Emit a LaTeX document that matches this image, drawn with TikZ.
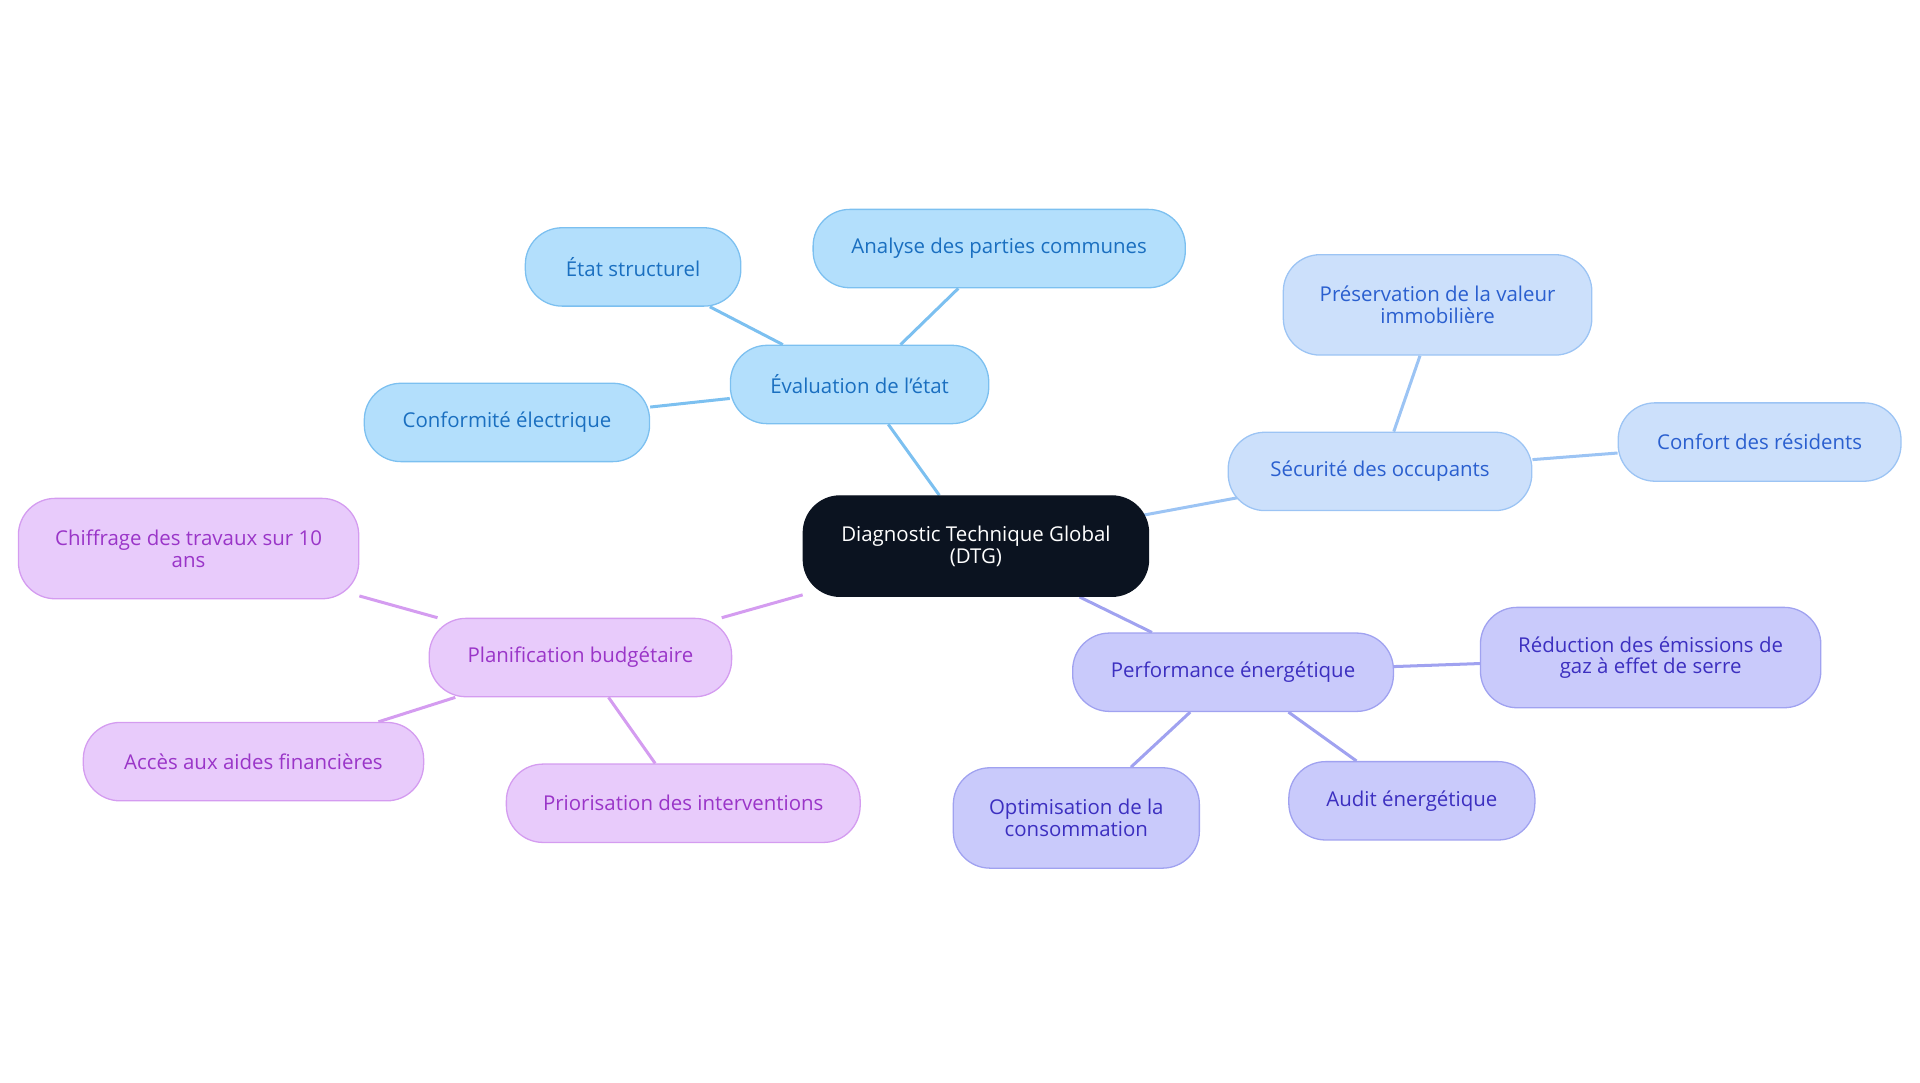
\documentclass[tikz,border=0pt]{standalone}
\usepackage{fontspec}
\setmainfont{Open Sans}
\usetikzlibrary{backgrounds}
\definecolor{rootc}{HTML}{0B1320}
\definecolor{bf}{HTML}{B3DFFC}\definecolor{bd}{HTML}{7CC0F0}\definecolor{bt}{HTML}{1A6FC0}
\definecolor{sf}{HTML}{CCE0FB}\definecolor{sd}{HTML}{9CC4F4}\definecolor{st}{HTML}{2A5FCF}
\definecolor{pf}{HTML}{C9CAFB}\definecolor{pd}{HTML}{A0A2F0}\definecolor{pt}{HTML}{3C2FC0}
\definecolor{vf}{HTML}{E8CBFB}\definecolor{vd}{HTML}{D49CF0}\definecolor{vt}{HTML}{9A35C8}
\begin{document}
\begin{tikzpicture}[x=0.02cm,y=-0.02cm,
 box/.style={rounded corners=0.6cm,align=center,font=\fontsize{9.5}{10}\selectfont,inner sep=0pt,line width=0.6pt},
 blue/.style={box,fill=bf,draw=bd,text=bt},
 sky/.style={box,fill=sf,draw=sd,text=st},
 perf/.style={box,fill=pf,draw=pd,text=pt},
 viol/.style={box,fill=vf,draw=vd,text=vt},
 bl/.style={draw=bd,line width=1.4pt},
 sl/.style={draw=sd,line width=1.4pt},
 pl/.style={draw=pd,line width=1.4pt},
 vl/.style={draw=vd,line width=1.4pt}]
\useasboundingbox (0,0) rectangle (1568,884);
\node[box,fill=rootc,draw=rootc,text=white,minimum width=282\pgflinewidth*0+5.64cm,minimum height=1.64cm] (root) at (797,446) {Diagnostic Technique Global\\(DTG)};
\node[blue,minimum width=4.22cm,minimum height=1.28cm] (eval) at (702,314) {Évaluation de l'état};
\node[blue,minimum width=3.52cm,minimum height=1.28cm] (etat) at (517,218) {État structurel};
\node[blue,minimum width=6.08cm,minimum height=1.28cm] (anal) at (816,203) {Analyse des parties communes};
\node[blue,minimum width=4.66cm,minimum height=1.28cm] (conf) at (414,345) {Conformité électrique};
\node[sky,minimum width=4.96cm,minimum height=1.28cm] (secu) at (1127,385) {Sécurité des occupants};
\node[sky,minimum width=5.04cm,minimum height=1.64cm] (pres) at (1174,249) {Préservation de la valeur\\immobilière};
\node[sky,minimum width=4.62cm,minimum height=1.28cm] (conft) at (1437,361) {Confort des résidents};
\node[perf,minimum width=5.24cm,minimum height=1.28cm] (perf) at (1007,549) {Performance énergétique};
\node[perf,minimum width=5.56cm,minimum height=1.64cm] (redu) at (1348,537) {Réduction des émissions de\\gaz à effet de serre};
\node[perf,minimum width=4.02cm,minimum height=1.64cm] (opti) at (879,668) {Optimisation de la\\consommation};
\node[perf,minimum width=4.02cm,minimum height=1.28cm] (audit) at (1153,654) {Audit énergétique};
\node[viol,minimum width=4.94cm,minimum height=1.28cm] (plan) at (474,537) {Planification budgétaire};
\node[viol,minimum width=5.56cm,minimum height=1.64cm] (chif) at (154,448) {Chiffrage des travaux sur 10\\ans};
\node[viol,minimum width=5.56cm,minimum height=1.28cm] (acces) at (207,622) {Accès aux aides financières};
\node[viol,minimum width=5.78cm,minimum height=1.28cm] (prio) at (558,656) {Priorisation des interventions};
\begin{scope}[on background layer]
\draw[bl] (root) -- (eval);
\draw[bl] (eval) -- (etat);
\draw[bl] (eval) -- (anal);
\draw[bl] (eval) -- (conf);
\draw[sl] (root.center) -- (secu.center);
\draw[sl] (secu) -- (pres);
\draw[sl] (secu) -- (conft);
\draw[pl] (root) -- (perf);
\draw[pl] (perf) -- (redu);
\draw[pl] (perf) -- (opti);
\draw[pl] (perf) -- (audit);
\draw[vl] (root) -- (plan);
\draw[vl] (plan) -- (chif);
\draw[vl] (plan) -- (acces);
\draw[vl] (plan) -- (prio);
\end{scope}
\end{tikzpicture}
\end{document}
